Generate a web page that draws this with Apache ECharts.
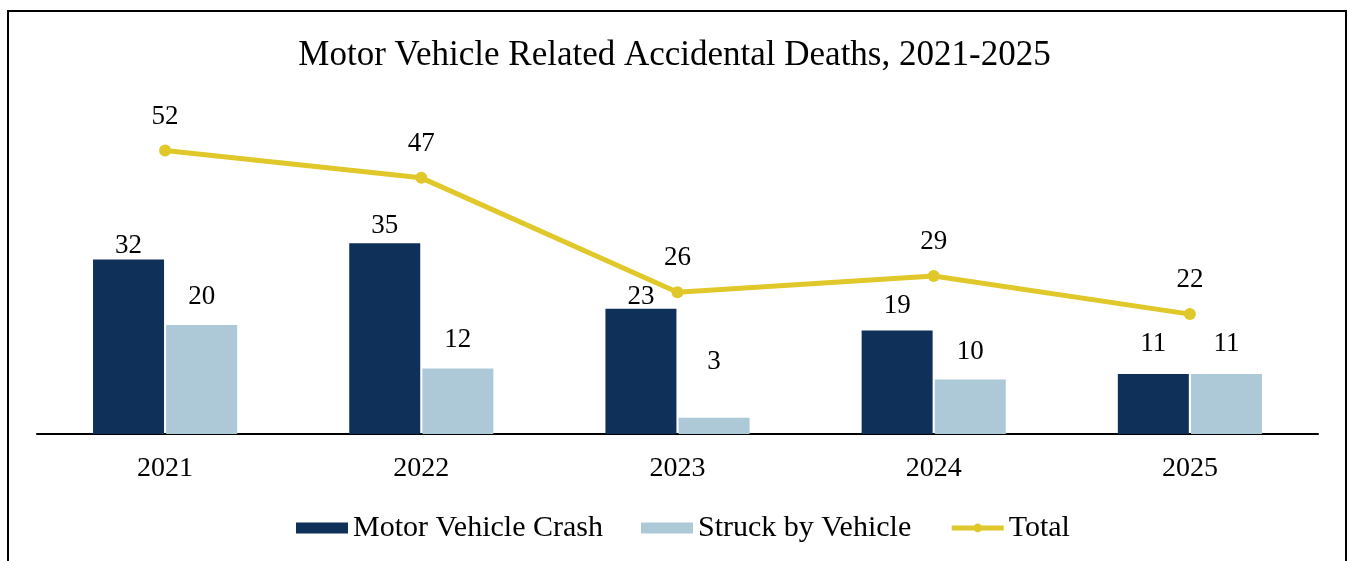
<!DOCTYPE html>
<html>
<head>
<meta charset="utf-8">
<title>Motor Vehicle Related Accidental Deaths</title>
<script src="https://cdn.jsdelivr.net/npm/echarts@6/dist/echarts.min.js"></script>
<style>
  html, body { margin: 0; padding: 0; background: #fff; }
  #chart { width: 1349px; height: 561px; }
</style>
</head>
<body>
<div id="chart"></div>
<script>
// data
var years = ['2021', '2022', '2023', '2024', '2025'];
var crash = [32, 35, 23, 19, 11];
var struck = [20, 12, 3, 10, 11];
var total = [52, 47, 26, 29, 22];

// label lift above each bar (px, bar top -> label centre), as placed in the original
var crashLift = [14, 17, 12, 25, 30];
var struckLift = [28, 29, 56, 28, 30];

var serif = '"Liberation Serif", "DejaVu Serif", serif';

function withLabels (vals, lifts) {
  return vals.map(function (v, i) {
    return { value: v, label: { distance: lifts[i] - 14 } }
  })
}

var chart = echarts.init(document.getElementById('chart'));
chart.setOption({
  animation: false,
  textStyle: { fontFamily: serif },
  title: {
    text: 'Motor Vehicle Related Accidental Deaths, 2021-2025',
    left: 'center',
    top: 33,
    textStyle: { fontFamily: serif, fontSize: 35, fontWeight: 'normal', color: '#000' }
  },
  // outer frame of the original figure
  graphic: [{
    type: 'rect',
    shape: { x: 8, y: 11, width: 1338, height: 600 },
    style: { fill: 'none', stroke: '#000', lineWidth: 2 },
    silent: true
  }],
  legend: {
    top: 508,
    left: 291,
    itemGap: 38,
    itemWidth: 52,
    itemHeight: 11,
    textStyle: { fontFamily: serif, fontSize: 30, color: '#000' },
    data: [
      { name: 'Motor Vehicle Crash', icon: 'rect' },
      { name: 'Struck by Vehicle', icon: 'rect' },
      { name: 'Total', lineStyle: { width: 5 }, itemStyle: { color: '#e0c82a' } }
    ]
  },
  grid: {
    left: 37,
    right: 31,
    top: 107,
    bottom: 127,
    containLabel: false
  },
  xAxis: {
    type: 'category',
    data: years,
    axisLine: { lineStyle: { color: '#000', width: 2 } },
    axisTick: { show: false },
    axisLabel: { color: '#000', fontFamily: serif, fontSize: 28, margin: 21 }
  },
  yAxis: {
    type: 'value',
    min: 0,
    max: 60,
    show: false,
    splitLine: { show: false }
  },
  series: [{
    name: 'Motor Vehicle Crash',
    type: 'bar',
    barWidth: 71,
    barGap: '3%',
    data: withLabels(crash, crashLift),
    itemStyle: { color: '#0f3159' },
    label: { show: true, position: 'top', color: '#000', fontFamily: serif, fontSize: 27, lineHeight: 28 }
  }, {
    name: 'Struck by Vehicle',
    type: 'bar',
    barWidth: 71,
    data: withLabels(struck, struckLift),
    itemStyle: { color: '#adc9d7' },
    label: { show: true, position: 'top', color: '#000', fontFamily: serif, fontSize: 27, lineHeight: 28 }
  }, {
    name: 'Total',
    type: 'line',
    data: total,
    symbol: 'circle',
    symbolSize: 12,
    lineStyle: { color: '#e0c82a', width: 5 },
    itemStyle: { color: '#e0c82a' },
    label: { show: true, position: 'top', distance: 14, color: '#000', fontFamily: serif, fontSize: 27, lineHeight: 28 }
  }]
});
</script>
</body>
</html>
